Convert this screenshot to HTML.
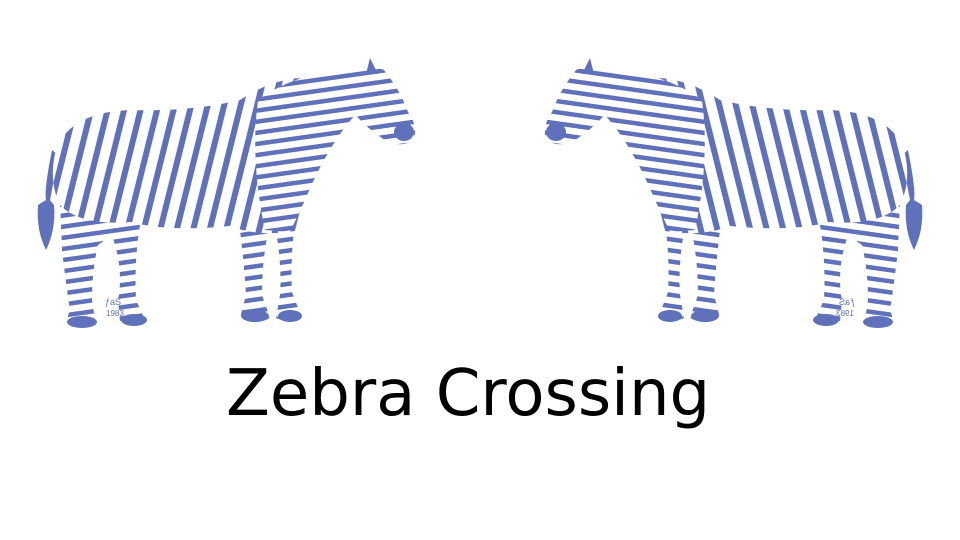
<!DOCTYPE html>
<html>
<head>
<meta charset="utf-8">
<style>
  html,body{margin:0;padding:0;background:#fff;}
  #stage{position:relative;width:960px;height:540px;overflow:hidden;background:#fff;}
  #title{position:absolute;left:226px;top:357px;font-family:"DejaVu Sans","Liberation Sans",sans-serif;font-size:64px;color:#000;white-space:nowrap;}
</style>
</head>
<body>
<div id="stage">
<svg width="960" height="540" viewBox="0 0 960 540">
  <defs>
    <pattern id="stripes" patternUnits="userSpaceOnUse" width="16" height="16" patternTransform="rotate(14)">
      <rect width="16" height="16" fill="#ffffff"/>
      <rect width="6" height="16" fill="#5f71ba"/>
    </pattern>
    <pattern id="hstripes" patternUnits="userSpaceOnUse" width="11" height="11" patternTransform="rotate(-8)">
      <rect width="11" height="11" fill="#ffffff"/>
      <rect width="11" height="4.5" fill="#5f71ba"/>
    </pattern>
    <g id="zebra">
      <path d="M52,150 Q44,190 46,200 L38,205 Q36,230 46,250 Q56,230 54,205 L50,200 Q54,180 58,155 Z" fill="#5f71ba"/>
      <path d="M60,200 L62,250 Q66,285 70,310 L66,322 Q78,330 96,326 L92,300 Q92,270 98,245 L112,235 Q124,270 118,300 L120,322 Q132,328 146,322 L136,300 Q134,260 140,225 Z" fill="url(#hstripes)"/>
      <path d="M238,215 Q244,260 246,295 L240,318 Q254,326 270,318 L262,295 Q262,262 268,232 L276,232 Q282,265 280,295 L276,318 Q290,324 302,318 L292,292 Q290,255 296,215 Z" fill="url(#hstripes)"/>
      <path d="M56,150 Q70,112 130,110 Q190,112 240,100 Q270,80 300,78 L330,90 L300,230 Q260,238 230,226 Q170,232 130,222 Q80,226 60,205 Q48,180 56,150 Z" fill="url(#stripes)"/>
      <path d="M258,100 Q300,70 350,72 L360,110 Q330,140 305,200 L290,232 L265,230 Q250,160 258,100 Z" fill="url(#hstripes)"/>
      <path d="M345,78 Q360,60 384,70 Q400,90 408,112 Q418,126 414,138 Q406,148 388,142 Q372,132 360,120 Q346,104 345,78 Z" fill="url(#hstripes)"/>
      <ellipse cx="404" cy="132" rx="10" ry="9" fill="#5f71ba"/>
      <path d="M370,58 L378,74 L366,74 Z" fill="#5f71ba"/>
      <ellipse cx="82" cy="322" rx="15" ry="6" fill="#5f71ba"/>
      <ellipse cx="134" cy="320" rx="13" ry="6" fill="#5f71ba"/>
      <ellipse cx="255" cy="316" rx="14" ry="6" fill="#5f71ba"/>
      <ellipse cx="290" cy="316" rx="12" ry="6" fill="#5f71ba"/>
      <text x="105" y="305" font-family="Liberation Sans, sans-serif" font-size="9" fill="#5f71ba">ƒaS</text>
      <text x="106" y="316" font-family="Liberation Sans, sans-serif" font-size="8" fill="#5f71ba">1983</text>
    </g>
  </defs>
  <use href="#zebra"/>
  <use href="#zebra" transform="translate(960,0) scale(-1,1)"/>
</svg>
<div id="title">Zebra Crossing</div>
</div>
</body>
</html>
